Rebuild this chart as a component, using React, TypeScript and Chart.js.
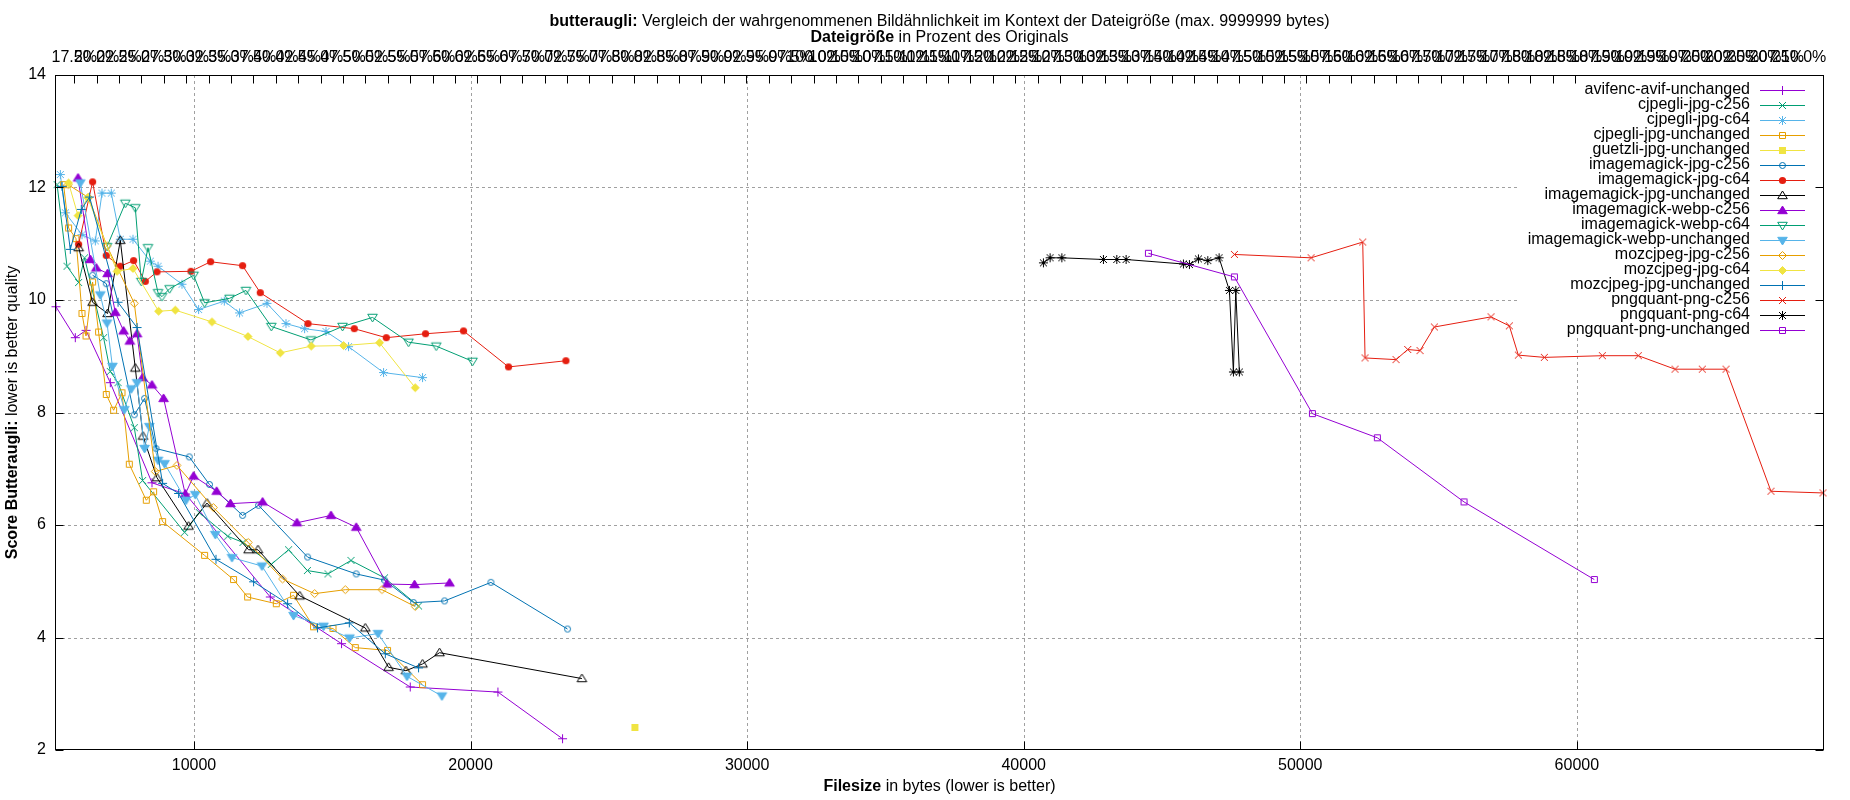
import React, { useEffect, useRef } from "react";
import { Chart, registerables } from "chart.js";

Chart.register(...registerables);

const FONT = '"Liberation Sans", Arial, sans-serif';

// estimated size of the original image in bytes (links the top axis to the bottom one)
const ORIGINAL_BYTES = 32400;

const yTicks = [2, 4, 6, 8, 10, 12, 14];
const xTicks = [10000, 20000, 30000, 40000, 50000, 60000];
const pctTicks = Array.from({ length: 78 }, (_, i) => 17.5 + i * 2.5);

// [filesize in bytes, butteraugli score]
const avifencAvifUnchanged = [[5011, 9.88], [5709, 9.33], [6096, 9.46], [6974, 8.53], [8482, 6.75], [9700, 6.55], [12758, 4.72], [15336, 3.89], [17819, 3.12], [20990, 3.03], [23325, 2.2]];
const cjpegliJpgC256 = [[5050, 12.05], [5409, 10.6], [5828, 10.31], [6045, 10.75], [6732, 9.33], [6974, 8.73], [7253, 8.53], [7842, 7.73], [8142, 6.79], [9660, 5.87], [10192, 6.22], [11220, 5.8], [11771, 5.69], [12794, 5.3], [13420, 5.56], [14100, 5.19], [14844, 5.13], [15676, 5.37], [16890, 5.06], [18119, 4.56]];
const cjpegliJpgC64 = [[5167, 12.23], [5348, 11.55], [5951, 11.16], [6432, 11.05], [6674, 11.9], [7010, 11.9], [7336, 11.08], [7795, 11.08], [8420, 10.69], [8699, 10.6], [9566, 10.28], [10166, 9.83], [11095, 9.98], [11648, 9.77], [12639, 9.94], [13326, 9.58], [14000, 9.49], [14772, 9.44], [15589, 9.17], [16854, 8.71], [18264, 8.62]];
const cjpegliJpgUnchanged = [[5286, 12.05], [5467, 11.28], [5734, 11.09], [5951, 9.76], [6096, 9.36], [6334, 10.32], [6551, 9.43], [6830, 8.32], [7094, 8.04], [7397, 8.35], [7661, 7.08], [8276, 6.44], [8540, 6.59], [8865, 6.06], [10383, 5.46], [11431, 5.03], [11938, 4.72], [12975, 4.6], [13600, 4.75], [14323, 4.19], [15025, 4.16], [15831, 3.82], [16998, 3.77], [18264, 3.16]];
const guetzliJpgUnchanged = [[25942, 2.4]];
const imagemagickJpgC256 = [[6334, 10.44], [6830, 10.29], [7842, 7.96], [8214, 8.25], [8626, 7.36], [9830, 7.21], [10560, 6.72], [11757, 6.17], [12335, 6.35], [14107, 5.43], [15867, 5.13], [16890, 5.02], [17939, 4.62], [19059, 4.65], [20736, 4.98], [23506, 4.15]];
const imagemagickJpgC64 = [[5828, 10.99], [6334, 12.1], [6830, 10.79], [7336, 10.6], [7817, 10.7], [8240, 10.33], [8662, 10.5], [9892, 10.51], [10600, 10.68], [11757, 10.61], [12397, 10.13], [14121, 9.58], [15795, 9.49], [16952, 9.33], [18372, 9.4], [19746, 9.45], [21373, 8.81], [23448, 8.92]];
const imagemagickJpgUnchanged = [[5832, 10.93], [6334, 9.96], [6877, 9.76], [7336, 11.06], [7878, 8.79], [8156, 7.58], [8662, 6.84], [9805, 5.98], [10470, 6.39], [11974, 5.56], [12314, 5.56], [13825, 4.74], [16193, 4.17], [17036, 3.47], [17664, 3.41], [18264, 3.53], [18878, 3.73], [24026, 3.27]];
const imagemagickWebpC256 = [[5807, 12.17], [6251, 10.72], [6468, 10.57], [6877, 10.47], [7155, 9.78], [7455, 9.45], [7680, 9.27], [7940, 9.4], [8142, 8.62], [8482, 8.49], [8901, 8.25], [9685, 6.55], [9986, 6.87], [10820, 6.6], [11320, 6.38], [12480, 6.41], [13723, 6.04], [14953, 6.17], [15867, 5.96], [16977, 4.95], [17975, 4.94], [19240, 4.97]];
const imagemagickWebpC64 = [[6855, 10.95], [7516, 11.72], [7878, 11.64], [8095, 10.33], [8337, 10.93], [8699, 10.13], [8843, 10.06], [9118, 10.2], [9986, 10.44], [10383, 9.95], [11287, 10.03], [11880, 10.17], [12794, 9.53], [14230, 9.29], [15372, 9.53], [16456, 9.69], [17758, 9.25], [18759, 9.18], [20071, 8.91]];
const imagemagickWebpUnchanged = [[5890, 12.08], [6613, 10.09], [6855, 9.59], [7050, 8.82], [7480, 8.05], [7733, 8.42], [7940, 8.53], [8214, 7.36], [8384, 7.75], [8699, 7.15], [8937, 7.09], [9711, 6.44], [10047, 6.54], [10770, 5.83], [11374, 5.42], [12458, 5.27], [13600, 4.39], [14685, 4.2], [15625, 3.99], [16652, 4.07], [17700, 3.31], [18965, 2.96]];
const mozcjpegJpgC256 = [[5450, 12.05], [6190, 11.82], [6855, 10.96], [7842, 9.94], [8600, 6.95], [9385, 7.06], [10700, 6.31], [11960, 5.69], [13203, 5.04], [14360, 4.78], [15470, 4.85], [16796, 4.85], [18000, 4.55]];
const mozcjpegJpgC64 = [[5467, 12.08], [5807, 11.5], [6154, 11.82], [7217, 10.51], [7795, 10.56], [8720, 9.8], [9324, 9.82], [10651, 9.61], [11952, 9.35], [13120, 9.06], [14240, 9.18], [15408, 9.19], [16709, 9.24], [18000, 8.44]];
const mozcjpegJpgUnchanged = [[5228, 12.02], [5528, 10.9], [5926, 11.61], [6226, 11.83], [7253, 9.96], [7940, 9.51], [8865, 6.74], [9443, 6.56], [10795, 5.39], [12155, 4.99], [13384, 4.6], [14468, 4.17], [15614, 4.26], [16916, 3.71], [18119, 3.46]];
const pngquantPngC256 = [[47618, 10.81], [50391, 10.75], [52258, 11.03], [52342, 8.97], [53463, 8.94], [53885, 9.12], [54330, 9.1], [54848, 9.52], [56898, 9.7], [57559, 9.54], [57885, 9.02], [58824, 8.98], [60921, 9.01], [62222, 9.01], [63549, 8.77], [64536, 8.77], [65393, 8.77], [67019, 6.6], [68900, 6.57]];
const pngquantPngC64 = [[40713, 10.66], [40955, 10.75], [41378, 10.75], [42882, 10.72], [43366, 10.72], [43702, 10.72], [45774, 10.64], [45991, 10.63], [46316, 10.73], [46656, 10.7], [47065, 10.75], [47437, 10.17], [47582, 8.72], [47668, 10.17], [47798, 8.72]];
const pngquantPngUnchanged = [[44509, 10.83], [47618, 10.41], [50438, 7.98], [52787, 7.55], [55921, 6.41], [60632, 5.03]];

const series = [
  { name: "avifenc-avif-unchanged", color: "#9400d3", marker: "plus", data: avifencAvifUnchanged },
  { name: "cjpegli-jpg-c256", color: "#009e73", marker: "cross", data: cjpegliJpgC256 },
  { name: "cjpegli-jpg-c64", color: "#56b4e9", marker: "star", data: cjpegliJpgC64 },
  { name: "cjpegli-jpg-unchanged", color: "#e69f00", marker: "square", data: cjpegliJpgUnchanged },
  { name: "guetzli-jpg-unchanged", color: "#f0e442", marker: "squareFilled", data: guetzliJpgUnchanged },
  { name: "imagemagick-jpg-c256", color: "#0072b2", marker: "circle", data: imagemagickJpgC256 },
  { name: "imagemagick-jpg-c64", color: "#e51e10", marker: "circleFilled", data: imagemagickJpgC64 },
  { name: "imagemagick-jpg-unchanged", color: "#000000", marker: "triangle", data: imagemagickJpgUnchanged },
  { name: "imagemagick-webp-c256", color: "#9400d3", marker: "triangleFilled", data: imagemagickWebpC256 },
  { name: "imagemagick-webp-c64", color: "#009e73", marker: "triangleDown", data: imagemagickWebpC64 },
  { name: "imagemagick-webp-unchanged", color: "#56b4e9", marker: "triangleDownFilled", data: imagemagickWebpUnchanged },
  { name: "mozcjpeg-jpg-c256", color: "#e69f00", marker: "diamond", data: mozcjpegJpgC256 },
  { name: "mozcjpeg-jpg-c64", color: "#f0e442", marker: "diamondFilled", data: mozcjpegJpgC64 },
  { name: "mozcjpeg-jpg-unchanged", color: "#0072b2", marker: "plus", data: mozcjpegJpgUnchanged },
  { name: "pngquant-png-c256", color: "#e51e10", marker: "cross", data: pngquantPngC256 },
  { name: "pngquant-png-c64", color: "#000000", marker: "star", data: pngquantPngC64 },
  { name: "pngquant-png-unchanged", color: "#9400d3", marker: "square", data: pngquantPngUnchanged },
];

function paintMarker(ctx: CanvasRenderingContext2D, kind: string, color: string) {
  ctx.strokeStyle = color;
  ctx.fillStyle = color;
  ctx.lineWidth = 1;
  ctx.beginPath();
  switch (kind) {
    case "plus":
      ctx.moveTo(-4.5, 0); ctx.lineTo(4.5, 0);
      ctx.moveTo(0, -4.5); ctx.lineTo(0, 4.5);
      ctx.stroke();
      break;
    case "cross":
      ctx.moveTo(-3.5, -3.5); ctx.lineTo(3.5, 3.5);
      ctx.moveTo(-3.5, 3.5); ctx.lineTo(3.5, -3.5);
      ctx.stroke();
      break;
    case "star":
      ctx.moveTo(-4.5, 0); ctx.lineTo(4.5, 0);
      ctx.moveTo(0, -4.5); ctx.lineTo(0, 4.5);
      ctx.moveTo(-3.5, -3.5); ctx.lineTo(3.5, 3.5);
      ctx.moveTo(-3.5, 3.5); ctx.lineTo(3.5, -3.5);
      ctx.stroke();
      break;
    case "square":
      ctx.rect(-3, -3, 6, 6);
      ctx.stroke();
      break;
    case "squareFilled":
      ctx.rect(-3.5, -3.5, 7, 7);
      ctx.fill();
      break;
    case "circle":
      ctx.arc(0, 0, 3, 0, Math.PI * 2);
      ctx.stroke();
      break;
    case "circleFilled":
      ctx.arc(0, 0, 3.6, 0, Math.PI * 2);
      ctx.fill();
      break;
    case "triangle":
    case "triangleFilled":
      ctx.moveTo(0, -4.5); ctx.lineTo(4.8, 3.2); ctx.lineTo(-4.8, 3.2);
      ctx.closePath();
      if (kind === "triangleFilled") ctx.fill();
      ctx.stroke();
      break;
    case "triangleDown":
    case "triangleDownFilled":
      ctx.moveTo(0, 4.5); ctx.lineTo(4.8, -3.2); ctx.lineTo(-4.8, -3.2);
      ctx.closePath();
      if (kind === "triangleDownFilled") ctx.fill();
      ctx.stroke();
      break;
    case "diamond":
    case "diamondFilled":
      ctx.moveTo(0, -4); ctx.lineTo(4, 0); ctx.lineTo(0, 4); ctx.lineTo(-4, 0);
      ctx.closePath();
      if (kind === "diamondFilled") ctx.fill();
      ctx.stroke();
      break;
  }
}

function markerImage(kind: string, color: string) {
  const c = document.createElement("canvas");
  c.width = 15;
  c.height = 15;
  const ctx = c.getContext("2d")!;
  ctx.translate(7.5, 7.5);
  paintMarker(ctx, kind, color);
  return c;
}

// draws a line of text made of bold and normal runs, centred on cx
function mixedText(ctx: CanvasRenderingContext2D, parts: [string, boolean][], cx: number, cy: number) {
  const widths = parts.map(([t, b]) => {
    ctx.font = `${b ? "bold " : ""}16px ${FONT}`;
    return ctx.measureText(t).width;
  });
  let x = cx - widths.reduce((a, b) => a + b, 0) / 2;
  ctx.textAlign = "left";
  ctx.textBaseline = "middle";
  parts.forEach(([t, b], i) => {
    ctx.font = `${b ? "bold " : ""}16px ${FONT}`;
    ctx.fillText(t, x, cy);
    x += widths[i];
  });
}

const App: React.FC = () => {
  const canvasRef = useRef<HTMLCanvasElement>(null);
  const chartRef = useRef<Chart | null>(null);

  useEffect(() => {
    if (!canvasRef.current) return;
    if (chartRef.current) chartRef.current.destroy();

    const allX = series.flatMap((s) => s.data.map((p) => p[0]));
    const xMin = Math.min(...allX);
    const xMax = Math.max(...allX);
    const images = series.map((s) => markerImage(s.marker, s.color));

    // gnuplot style frame, grid, tics, titles and key
    const overlay = {
      id: "gnuplotFrame",
      beforeDatasetsDraw(chart: Chart) {
        const { ctx, chartArea: a } = chart;
        const xs = chart.scales.x;
        const ys = chart.scales.y;
        const keyLeft = 1517;
        const keyBottom = 338;
        ctx.save();
        ctx.strokeStyle = "#a0a0a0";
        ctx.lineWidth = 1;
        ctx.setLineDash([3, 3]);
        xTicks.forEach((v) => {
          const px = Math.round(xs.getPixelForValue(v)) + 0.5;
          ctx.beginPath();
          ctx.moveTo(px, px > keyLeft ? keyBottom : a.top);
          ctx.lineTo(px, a.bottom);
          ctx.stroke();
        });
        yTicks.slice(1, -1).forEach((v) => {
          const py = Math.round(ys.getPixelForValue(v)) + 0.5;
          ctx.beginPath();
          ctx.moveTo(a.left, py);
          ctx.lineTo(py < keyBottom ? keyLeft : a.right, py);
          ctx.stroke();
        });
        ctx.restore();
      },
      afterDatasetsDraw(chart: Chart) {
        const { ctx, chartArea: a } = chart;
        const xs = chart.scales.x;
        const x2 = chart.scales.x2;
        const ys = chart.scales.y;
        ctx.save();
        ctx.strokeStyle = "#000";
        ctx.fillStyle = "#000";
        ctx.lineWidth = 1;
        ctx.setLineDash([]);
        const L = Math.round(a.left) - 0.5;
        const R = Math.round(a.right) + 0.5;
        const T = Math.round(a.top) + 0.5;
        const B = Math.round(a.bottom) - 0.5;
        ctx.strokeRect(L, T, R - L, B - T);

        ctx.beginPath();
        xTicks.forEach((v) => {
          const px = Math.round(xs.getPixelForValue(v)) + 0.5;
          ctx.moveTo(px, B);
          ctx.lineTo(px, B - 8);
        });
        pctTicks.forEach((v) => {
          const px = Math.round(x2.getPixelForValue(v)) + 0.5;
          if (px > 1590) return;
          ctx.moveTo(px, T);
          ctx.lineTo(px, T + 8);
        });
        yTicks.forEach((v) => {
          const py = Math.round(ys.getPixelForValue(v)) + 0.5;
          ctx.moveTo(L, py);
          ctx.lineTo(L + 8, py);
          ctx.moveTo(R, py);
          ctx.lineTo(R - 8, py);
        });
        ctx.stroke();

        ctx.font = `16px ${FONT}`;
        ctx.textBaseline = "middle";
        ctx.textAlign = "right";
        yTicks.forEach((v) => ctx.fillText(String(v), 46, ys.getPixelForValue(v)));
        ctx.textAlign = "center";
        xTicks.forEach((v) => ctx.fillText(String(v), xs.getPixelForValue(v), 766));
        pctTicks.forEach((v) => ctx.fillText(v.toFixed(1) + "%", x2.getPixelForValue(v), 58));

        const cx = (a.left + a.right) / 2;
        mixedText(ctx, [["butteraugli:", true], [" Vergleich der wahrgenommenen Bildähnlichkeit im Kontext der Dateigröße (max. 9999999 bytes)", false]], cx, 22);
        mixedText(ctx, [["Dateigröße", true], [" in Prozent des Originals", false]], cx, 38);
        mixedText(ctx, [["Filesize", true], [" in bytes (lower is better)", false]], cx, 787);
        ctx.save();
        ctx.translate(13, (a.top + a.bottom) / 2);
        ctx.rotate(-Math.PI / 2);
        mixedText(ctx, [["Score Butteraugli:", true], [" lower is better quality", false]], 0, 0);
        ctx.restore();

        // key
        series.forEach((s, i) => {
          const y = 90 + i * 15;
          ctx.font = `16px ${FONT}`;
          ctx.textAlign = "right";
          ctx.textBaseline = "middle";
          ctx.fillStyle = "#000";
          ctx.fillText(s.name, 1750, y);
          ctx.strokeStyle = s.color;
          ctx.beginPath();
          ctx.moveTo(1760, Math.round(y) + 0.5);
          ctx.lineTo(1805, Math.round(y) + 0.5);
          ctx.stroke();
          ctx.drawImage(images[i], 1782.5 - 7.5, Math.round(y) + 0.5 - 7.5);
        });
        ctx.restore();
      },
    };

    chartRef.current = new Chart(canvasRef.current, {
      type: "scatter",
      data: {
        datasets: series.map((s, i) => ({
          label: s.name,
          data: s.data.map(([x, y]) => ({ x, y })),
          showLine: true,
          borderColor: s.color,
          backgroundColor: s.color,
          borderWidth: 1,
          pointStyle: images[i],
          pointRadius: 4,
          pointHoverRadius: 4,
          order: series.length - i,
          clip: false,
        })),
      },
      options: {
        animation: false,
        responsive: false,
        events: [],
        layout: { padding: { left: 56, top: 75, right: 27, bottom: 50 } },
        scales: {
          x: { type: "linear", display: false, min: xMin, max: xMax },
          x2: { type: "linear", display: false, position: "top", min: (xMin / ORIGINAL_BYTES) * 100, max: (xMax / ORIGINAL_BYTES) * 100 },
          y: { type: "linear", display: false, min: 2, max: 14 },
        },
        plugins: {
          legend: { display: false },
          tooltip: { enabled: false },
          title: { display: false },
        },
      },
      plugins: [overlay],
    });

    return () => {
      if (chartRef.current) {
        chartRef.current.destroy();
        chartRef.current = null;
      }
    };
  }, []);

  return (
    <div style={{ position: "fixed", left: 0, top: 0, width: 1850, height: 800, background: "#fff" }}>
      <canvas ref={canvasRef} width={1850} height={800} />
    </div>
  );
};

export default App;
